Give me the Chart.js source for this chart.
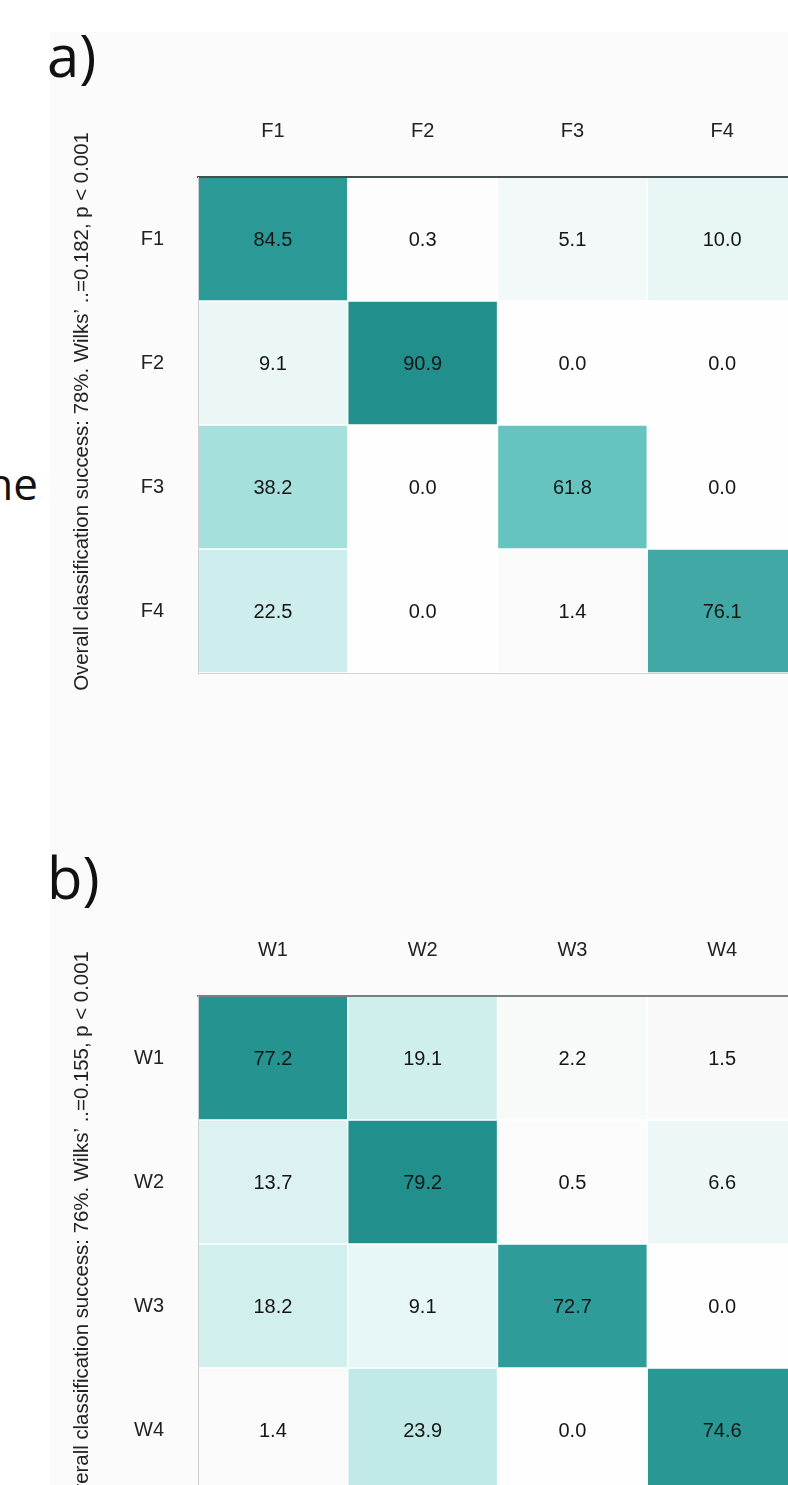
<!DOCTYPE html>
<html>
<head>
<meta charset="utf-8">
<script src="https://cdn.jsdelivr.net/npm/chart.js@4/dist/chart.umd.min.js"></script>
<style>
  html, body { margin: 0; padding: 0; width: 788px; height: 1485px; overflow: hidden; background: #ffffff; }
  .sheet { position: absolute; left: 50px; top: 32px; right: 0; bottom: 0; background: #fbfbfb; }
  .tag { position: absolute; font-family: "Open Sans", sans-serif; color: #111; white-space: nowrap; }
  .panel { position: absolute; left: 50px; }
</style>
</head>
<body>
<div class="sheet"></div>
<div class="tag" style="left:47px; top:26px; font-size:58px; line-height:58px;">a)</div>
<div class="tag" style="left:47px; top:848px; font-size:58px; line-height:58px;">b)</div>
<div class="tag" style="right:750px; top:461px; font-size:44px; line-height:44px;">ne</div>

<canvas id="panelA" class="panel" width="750" height="623" style="top:100px;"></canvas>
<canvas id="panelB" class="panel" width="750" height="623" style="top:919px;"></canvas>

<script>
// Group labels (predicted = columns, actual = rows)
const fGroups = ['F1', 'F2', 'F3', 'F4'];
const wGroups = ['W1', 'W2', 'W3', 'W4'];

// Classification percentages, one row per actual group
const fValues = [
  [84.5, 0.3, 5.1, 10.0],
  [9.1, 90.9, 0.0, 0.0],
  [38.2, 0.0, 61.8, 0.0],
  [22.5, 0.0, 1.4, 76.1]
];
const wValues = [
  [77.2, 19.1, 2.2, 1.5],
  [13.7, 79.2, 0.5, 6.6],
  [18.2, 9.1, 72.7, 0.0],
  [1.4, 23.9, 0.0, 74.6]
];

const fSummary = 'Overall classification success: 78%. Wilks\u2019 ..=0.182, p < 0.001';
const wSummary = 'Overall classification success: 76%. Wilks\u2019 ..=0.155, p < 0.001';

// White-to-teal colour ramp, position relative to the panel maximum
const RAMP = [
  [0.000, [254, 254, 254]],
  [0.020, [249, 249, 249]],
  [0.056, [243, 249, 248]],
  [0.110, [232, 246, 246]],
  [0.250, [205, 238, 236]],
  [0.420, [165, 224, 221]],
  [0.680, [102, 196, 192]],
  [0.840, [64, 168, 166]],
  [0.930, [43, 154, 151]],
  [1.000, [33, 144, 141]]
];

function rampColour(t) {
  t = Math.max(0, Math.min(1, t));
  for (let i = 1; i < RAMP.length; i++) {
    const [t1, c1] = RAMP[i];
    const [t0, c0] = RAMP[i - 1];
    if (t <= t1) {
      const k = (t - t0) / (t1 - t0);
      const c = c0.map((v, j) => Math.round(v + (c1[j] - v) * k));
      return `rgb(${c[0]},${c[1]},${c[2]})`;
    }
  }
  const c = RAMP[RAMP.length - 1][1];
  return `rgb(${c[0]},${c[1]},${c[2]})`;
}

const FONT = 'Liberation Sans, Arial, Helvetica, sans-serif';
const TITLE_SIZE = 20.4;

// Writes each cell's percentage in the middle of its rectangle
const cellValueLabels = {
  id: 'cellValueLabels',
  afterDatasetsDraw(chart) {
    const ctx = chart.ctx;
    ctx.save();
    ctx.font = `20px ${FONT}`;
    ctx.fillStyle = '#151515';
    ctx.textAlign = 'center';
    ctx.textBaseline = 'middle';
    chart.data.datasets.forEach((ds, di) => {
      const meta = chart.getDatasetMeta(di);
      meta.data.forEach((bar, ci) => {
        const v = ds.cellValues[ci];
        ctx.fillText(v.toFixed(1), bar.x, (bar.y + bar.base) / 2 + 1);
      });
    });
    ctx.restore();
  }
};

function confusionPanel(canvasId, groups, values, summary, topLine) {
  const maxVal = Math.max(...values.flat());
  const datasets = values.map((row, r) => ({
    label: groups[r],
    data: row.map(() => [r, r + 1]),
    cellValues: row,
    backgroundColor: row.map(v => rampColour(v / maxVal)),
    borderColor: 'rgba(255,255,255,0.85)',
    borderWidth: 1,
    borderSkipped: false,
    barPercentage: 1,
    categoryPercentage: 1,
    grouped: false
  }));

  const titleLine = TITLE_SIZE * 1.2;
  const titlePadTop = 32 - titleLine / 2;
  const titleWidth = titlePadTop + titleLine + 10;

  return new Chart(document.getElementById(canvasId), {
    type: 'bar',
    data: { labels: groups, datasets },
    options: {
      responsive: false,
      animation: false,
      devicePixelRatio: 1,
      layout: { padding: { right: 3 } },
      plugins: {
        legend: { display: false },
        tooltip: { enabled: false },
        title: {
          display: true,
          position: 'left',
          text: summary,
          color: '#222',
          font: { family: FONT, size: TITLE_SIZE, weight: 'normal' },
          padding: { top: titlePadTop, bottom: 10 }
        }
      },
      scales: {
        x: {
          position: 'top',
          grid: { display: false, drawTicks: false },
          border: { display: true, color: topLine, width: 2, z: 1 },
          ticks: { color: '#222', font: { family: FONT, size: 20 }, padding: 34 },
          afterFit: s => { s.height = 77; }
        },
        xBottom: {
          type: 'category',
          labels: groups,
          position: 'bottom',
          grid: { display: false, drawTicks: false },
          border: { display: true, color: '#d2d2d2', width: 1, z: 1 },
          ticks: { display: false },
          afterFit: s => { s.height = 50; }
        },
        y: {
          type: 'linear',
          position: 'left',
          min: 0,
          max: groups.length,
          reverse: true,
          grid: { display: false, drawTicks: false },
          border: { display: true, color: '#cfcfcf', width: 1, z: 1 },
          afterBuildTicks: s => { s.ticks = groups.map((_, i) => ({ value: i + 0.5 })); },
          ticks: {
            autoSkip: false,
            color: '#222',
            font: { family: FONT, size: 20 },
            padding: 34,
            callback: v => groups[Math.floor(v)]
          },
          afterFit: s => { s.width = 148 - titleWidth; }
        }
      }
    },
    plugins: [cellValueLabels]
  });
}

confusionPanel('panelA', fGroups, fValues, fSummary, '#454d50');
confusionPanel('panelB', wGroups, wValues, wSummary, '#7b8082');
</script>
</body>
</html>
